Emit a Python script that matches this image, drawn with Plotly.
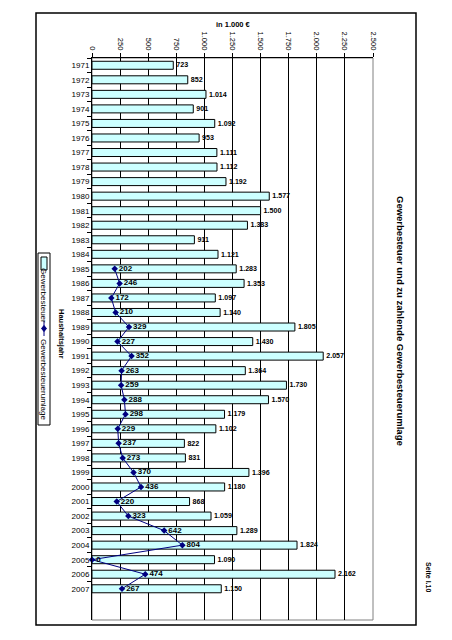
import plotly.graph_objects as go

years = [str(y) for y in range(1971, 2008)]
gewerbesteuer = [723, 852, 1014, 901, 1092, 953, 1111, 1112, 1192, 1577, 1500, 1383, 911,
                 1121, 1283, 1353, 1097, 1140, 1805, 1430, 2057, 1364, 1730, 1570, 1179,
                 1102, 822, 831, 1396, 1180, 868, 1059, 1289, 1824, 1090, 2162, 1150]
umlage_years = [str(y) for y in range(1985, 2008)]
umlage = [202, 246, 172, 210, 329, 227, 352, 263, 259, 288, 298, 229, 237, 273, 370, 436,
          220, 323, 642, 804, 0, 474, 267]
x_ticks = [0, 250, 500, 750, 1000, 1250, 1500, 1750, 2000, 2250, 2500]


def de(v):
    return f"{v:,}".replace(",", ".")


FONT = "Arial, Liberation Sans, sans-serif"
OFF = 8  # default page body margin
W, H = 452 - 2 * OFF, 640 - 2 * OFF
# plot area in window pixel coordinates
L, R, T, B = 92, 373, 58, 620


def px(x):
    return (x - L) / (R - L)


def py(y):
    return (B - y) / (B - T)


fig = go.Figure()
fig.add_trace(go.Bar(
    y=years, x=gewerbesteuer, orientation="h", name="Gewerbesteuer",
    marker=dict(color="#CCFFFF", line=dict(color="#000000", width=1)),
    text=[de(v) for v in gewerbesteuer], textposition="outside",
    textfont=dict(family=FONT, size=8, color="#000", weight="bold"),
    cliponaxis=False,
))
fig.add_trace(go.Scatter(
    y=umlage_years, x=umlage, mode="lines+markers+text", name="Gewerbesteuerumlage",
    line=dict(color="#000080", width=1),
    marker=dict(symbol="diamond", size=5, color="#000080"),
    text=[de(v) for v in umlage], textposition="middle right",
    textfont=dict(family=FONT, size=8, color="#000", weight="bold"),
    cliponaxis=False,
))

shapes = [
    # outer frame
    dict(type="rect", xref="paper", yref="paper", x0=px(36), x1=px(416), y0=py(625), y1=py(13),
         line=dict(color="#000", width=1.5), layer="below"),
    # plot area border
    dict(type="rect", xref="paper", yref="paper", x0=0, x1=1, y0=0, y1=1,
         line=dict(color="#808080", width=1), layer="below"),
    # legend box
    dict(type="rect", xref="paper", yref="paper", x0=px(38), x1=px(50), y0=py(425), y1=py(253),
         line=dict(color="#000", width=1), fillcolor="#fff"),
    dict(type="rect", xref="paper", yref="paper", x0=px(41), x1=px(47), y0=py(270), y1=py(257),
         line=dict(color="#000", width=1), fillcolor="#CCFFFF"),
    dict(type="line", xref="paper", yref="paper", x0=px(44), x1=px(44), y0=py(336), y1=py(321),
         line=dict(color="#000080", width=1)),
    dict(type="path", xref="paper", yref="paper",
         path=f"M {px(44)} {py(325.5)} L {px(46.5)} {py(328.5)} L {px(44)} {py(331.5)} L {px(41.5)} {py(328.5)} Z",
         line=dict(color="#000080", width=1), fillcolor="#000080"),
]


def ann(text, x, y, size, angle=0):
    return dict(text=text, xref="paper", yref="paper", x=px(x), y=py(y),
                xanchor="center", yanchor="middle", textangle=angle, showarrow=False,
                font=dict(family=FONT, size=size, color="#000"))


annotations = [
    ann("<b>in 1.000 €</b>", 233, 25, 7.5),
    ann("<b>Haushaltsjahr</b>", 62, 334, 7.5, 90),
    ann("<b>Gewerbesteuer und zu zahlende Gewerbesteuerumlage</b>", 401, 321, 9.5, 90),
    ann("<b>Seite I.10</b>", 429, 577, 7, 90),
    ann("Gewerbesteuer", 44, 295, 8, 90),
    ann("Gewerbesteuerumlage", 44, 379, 8, 90),
]

fig.update_layout(
    width=W, height=H, autosize=False,
    margin=dict(l=L - OFF, r=W - (R - OFF), t=T - OFF, b=H - (B - OFF), pad=0),
    paper_bgcolor="#fff", plot_bgcolor="#fff",
    showlegend=False, bargap=0.45,
    font=dict(family=FONT, size=8, color="#000"),
    shapes=shapes, annotations=annotations,
    xaxis=dict(
        side="top", range=[0, 2500], tickvals=x_ticks, ticktext=[de(v) for v in x_ticks],
        tickangle=90, tickfont=dict(family=FONT, size=7.5, color="#000"),
        showgrid=True, gridcolor="#000", gridwidth=1, zeroline=False,
        showline=True, linecolor="#000", linewidth=1,
        ticks="outside", ticklen=4, tickcolor="#000",
    ),
    yaxis=dict(
        type="category", categoryorder="array", categoryarray=years, autorange="reversed",
        tickfont=dict(family=FONT, size=8, color="#000"),
        showgrid=False, zeroline=False, showline=True, linecolor="#000", linewidth=1,
        ticks="outside", ticklen=4, tickcolor="#000", tickson="boundaries",
    ),
)

fig.write_html("out.html", config={"displayModeBar": False})
